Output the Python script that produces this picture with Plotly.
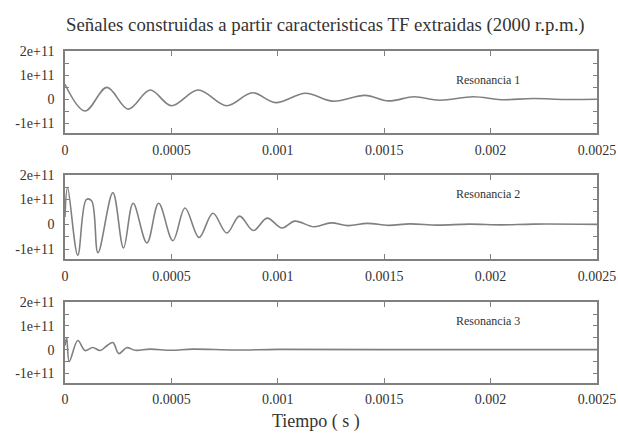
import plotly.graph_objects as go

# ---- data (time in ms, amplitude in 1e11 units) ----
t1 = [0.0, 0.094, 0.197, 0.297, 0.40, 0.50, 0.626, 0.76, 0.88, 0.99, 1.13, 1.26, 1.41, 1.52, 1.64, 1.76, 1.92, 2.05, 2.2, 2.35, 2.5]
v1 = [0.62, -0.49, 0.49, -0.41, 0.38, -0.27, 0.38, -0.27, 0.27, -0.14, 0.25, -0.08, 0.16, -0.07, 0.10, -0.04, 0.10, -0.02, 0.03, -0.01, 0.0]

t2 = [0.0, 0.012, 0.06, 0.10, 0.125, 0.155, 0.225, 0.275, 0.32, 0.385, 0.44, 0.507, 0.564, 0.63, 0.695, 0.76, 0.82, 0.885, 0.95, 1.02, 1.08, 1.17, 1.25, 1.33, 1.42, 1.52, 1.62, 1.75, 1.9, 2.05, 2.2, 2.5]
v2 = [0.3, 1.5, -1.25, 1.0, 0.95, -1.15, 1.28, -0.95, 0.85, -0.75, 0.85, -0.66, 0.66, -0.53, 0.45, -0.35, 0.33, -0.25, 0.25, -0.15, 0.13, -0.1, 0.06, -0.05, 0.04, -0.04, 0.02, -0.03, 0.01, -0.02, 0.01, 0.0]

t3 = [0.0, 0.008, 0.02, 0.06, 0.094, 0.13, 0.165, 0.195, 0.225, 0.253, 0.29, 0.33, 0.4, 0.5, 0.6, 0.8, 1.0, 1.5, 2.5]
v3 = [0.17, 0.5, -0.5, 0.38, -0.04, 0.09, -0.04, 0.15, 0.30, -0.17, 0.08, -0.03, 0.02, -0.03, 0.02, -0.02, 0.01, 0.0, 0.0]

labels = ["Resonancia 1", "Resonancia 2", "Resonancia 3"]
label_pos = [0.8, 1.22, 1.2]

xticks = [0.0, 0.0005, 0.001, 0.0015, 0.002, 0.0025]
xticktext = ["0", "0.0005", "0.001", "0.0015", "0.002", "0.0025"]
yticks = [-1e11, -0.5e11, 0, 0.5e11, 1e11, 1.5e11, 2e11]
yticktext = ["-1e+11", "", "0", "", "1e+11", "", "2e+11"]

title = "Señales construidas a partir caracteristicas TF extraidas (2000 r.p.m.)"
xtitle = "Tiempo ( s )"

series = [(t1, v1), (t2, v2), (t3, v3)]

FONT = "Liberation Serif, Times New Roman, serif"
GRAY = "#808080"
TXT = "#333333"

fig = go.Figure()
domains = [(0.695, 0.883), (0.406, 0.599), (0.122, 0.307)]
W = 618

for i, (t, v) in enumerate(series):
    k = "" if i == 0 else str(i + 1)
    fig.add_trace(go.Scatter(
        x=[ti * 1e-3 for ti in t], y=[vi * 1e11 for vi in v],
        mode="lines", line=dict(color=GRAY, width=1.6, shape="spline", smoothing=1.0),
        xaxis="x" + k, yaxis="y" + k, showlegend=False, hoverinfo="skip"))
    fig.add_annotation(x=1.99e-3, y=label_pos[i] * 1e11, xref="x" + k, yref="y" + k,
                       text=labels[i], showarrow=False, xanchor="center", yanchor="middle",
                       font=dict(family=FONT, size=12, color=TXT))
    fig.layout["xaxis" + k] = dict(
        domain=[65 / W, 597 / W], anchor="y" + k, range=[0, 0.0025],
        tickvals=xticks, ticktext=xticktext, ticks="inside", ticklen=5,
        tickcolor=GRAY, tickwidth=1, showline=True, linecolor=GRAY, linewidth=1.5,
        mirror="ticks", showgrid=False, zeroline=False, automargin=False,
        ticklabelstandoff=3,
        tickfont=dict(family=FONT, size=14, color=TXT))
    fig.layout["yaxis" + k] = dict(
        domain=list(domains[i]), anchor="x" + k, range=[-1.4e11, 2e11],
        tickvals=yticks, ticktext=yticktext, ticks="inside", ticklen=4,
        tickcolor=GRAY, tickwidth=1, showline=True, linecolor=GRAY, linewidth=1.5,
        mirror="ticks", showgrid=False, zeroline=False, automargin=False,
        ticklabelstandoff=6,
        tickfont=dict(family=FONT, size=14, color=TXT))

fig.add_annotation(x=325 / W, y=1 - 25 / 436, xref="paper", yref="paper",
                   text=title, showarrow=False, xanchor="center", yanchor="middle",
                   font=dict(family=FONT, size=18.8, color=TXT))
fig.add_annotation(x=316 / W, y=1 - 421 / 436, xref="paper", yref="paper",
                   text=xtitle, showarrow=False, xanchor="center", yanchor="middle",
                   font=dict(family=FONT, size=18, color=TXT))

fig.update_layout(width=618, height=436, margin=dict(l=0, r=0, t=0, b=0, autoexpand=False),
                  paper_bgcolor="white", plot_bgcolor="white")
fig.write_html("out.html")
